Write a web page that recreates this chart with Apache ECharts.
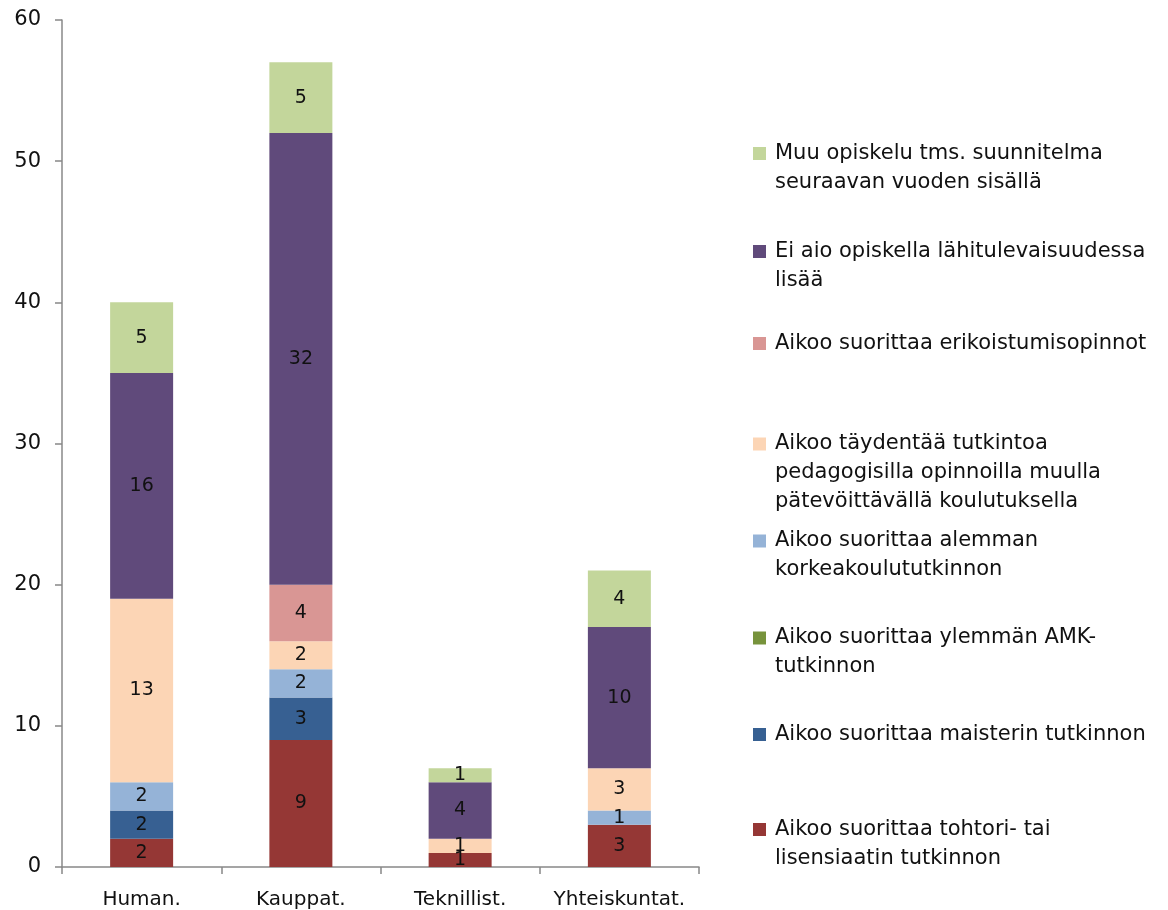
<!DOCTYPE html>
<html>
  <head>
    <meta charset="utf-8" />
    <title>Jatko-opintosuunnitelmat</title>
    <script src="https://cdn.jsdelivr.net/npm/echarts@6/dist/echarts.min.js"></script>
  </head>

  <body style="margin: 0">
    <div id="main" style="width: 1168px; height: 910px"></div>

    <script>
      // kategoriat (x-akseli)
      var categories = ["Human.", "Kauppat.", "Teknillist.", "Yhteiskuntat."];

      // sarjat alhaalta ylös pinossa
      var tohtori = [2, 9, 1, 3];
      var maisteri = [2, 3, 0, 0];
      var ylempiAmk = [0, 0, 0, 0];
      var alempi = [2, 2, 0, 1];
      var taydentaa = [13, 2, 1, 3];
      var erikoistuminen = [0, 4, 0, 0];
      var eiAio = [16, 32, 4, 10];
      var muu = [5, 5, 1, 4];

      var seriesNames = [
        "Aikoo suorittaa tohtori- tai lisensiaatin tutkinnon",
        "Aikoo suorittaa maisterin tutkinnon",
        "Aikoo suorittaa ylemmän AMK-tutkinnon",
        "Aikoo suorittaa alemman korkeakoulututkinnon",
        "Aikoo täydentää tutkintoa pedagogisilla opinnoilla muulla pätevöittävällä koulutuksella",
        "Aikoo suorittaa erikoistumisopinnot",
        "Ei aio opiskella lähitulevaisuudessa lisää",
        "Muu opiskelu tms. suunnitelma seuraavan vuoden sisällä",
      ];
      // selitteen rivitys kuten alkuperäisessä
      var legendLines = [
        ["Aikoo suorittaa tohtori- tai", "lisensiaatin tutkinnon"],
        ["Aikoo suorittaa maisterin tutkinnon"],
        ["Aikoo suorittaa ylemmän AMK-", "tutkinnon"],
        ["Aikoo suorittaa alemman", "korkeakoulututkinnon"],
        ["Aikoo täydentää tutkintoa", "pedagogisilla opinnoilla muulla", "pätevöittävällä koulutuksella"],
        ["Aikoo suorittaa erikoistumisopinnot"],
        ["Ei aio opiskella lähitulevaisuudessa", "lisää"],
        ["Muu opiskelu tms. suunnitelma", "seuraavan vuoden sisällä"],
      ];
      var values = [tohtori, maisteri, ylempiAmk, alempi, taydentaa, erikoistuminen, eiAio, muu];

      var colors = ["#953735", "#376092", "#77933C", "#95B3D7", "#FCD5B5", "#D99694", "#604A7B", "#C3D69B"];
      // selitteen ikonien keskikohdat (px)
      var legendCenters = [829.5, 734.5, 638, 541, 444, 343.5, 251.5, 153.5];

      var font = "DejaVu Sans";
      var lh = 29;

      var series = values.map(function (v, i) {
        return {
          name: seriesNames[i],
          type: "bar",
          stack: "total",
          barWidth: 63,
          data: v,
          itemStyle: { color: colors[i] },
          label: {
            show: true,
            position: "inside",
            color: "#111",
            fontFamily: font,
            fontSize: 19,
            formatter: function (p) {
              return p.value ? String(p.value) : "";
            },
          },
        };
      });

      // ikoni tasataan ensimmäisen rivin kohdalle: tyhjiä rivejä yläpuolelle
      var legends = seriesNames.map(function (name, i) {
        var n = legendLines[i].length;
        var pad = [];
        for (var k = 1; k < n; k++) pad.push(" ");
        return {
          left: 753,
          top: legendCenters[i] - ((2 * n - 1) * lh) / 2,
          padding: 0,
          icon: "rect",
          itemWidth: 13,
          itemHeight: 13,
          selectedMode: false,
          data: [name],
          formatter: function () {
            return pad.concat(legendLines[i]).join("\n");
          },
          textStyle: {
            fontFamily: font,
            fontSize: 21,
            color: "#111",
            lineHeight: lh,
            padding: [0, 0, 0, 4],
          },
        };
      });

      var option = {
        animation: false,
        backgroundColor: "#fff",
        grid: { left: 62, right: 469, top: 20, bottom: 43, containLabel: false },
        legend: legends,
        xAxis: {
          type: "category",
          data: categories,
          axisLine: { lineStyle: { color: "#888", width: 1.5 } },
          axisTick: { show: true, interval: 0, length: 7, lineStyle: { color: "#888", width: 1.5 } },
          axisLabel: { interval: 0, color: "#111", fontFamily: font, fontSize: 20, margin: 23 },
        },
        yAxis: {
          type: "value",
          min: 0,
          max: 60,
          interval: 10,
          splitLine: { show: false },
          axisLine: { show: true, lineStyle: { color: "#888", width: 1.5 } },
          axisTick: { show: true, length: 7, lineStyle: { color: "#888", width: 1.5 } },
          axisLabel: { color: "#111", fontFamily: font, fontSize: 21, margin: 21 },
        },
        series: series,
      };

      var myChart = echarts.init(document.getElementById("main"));
      myChart.setOption(option);
    </script>
  </body>
</html>
